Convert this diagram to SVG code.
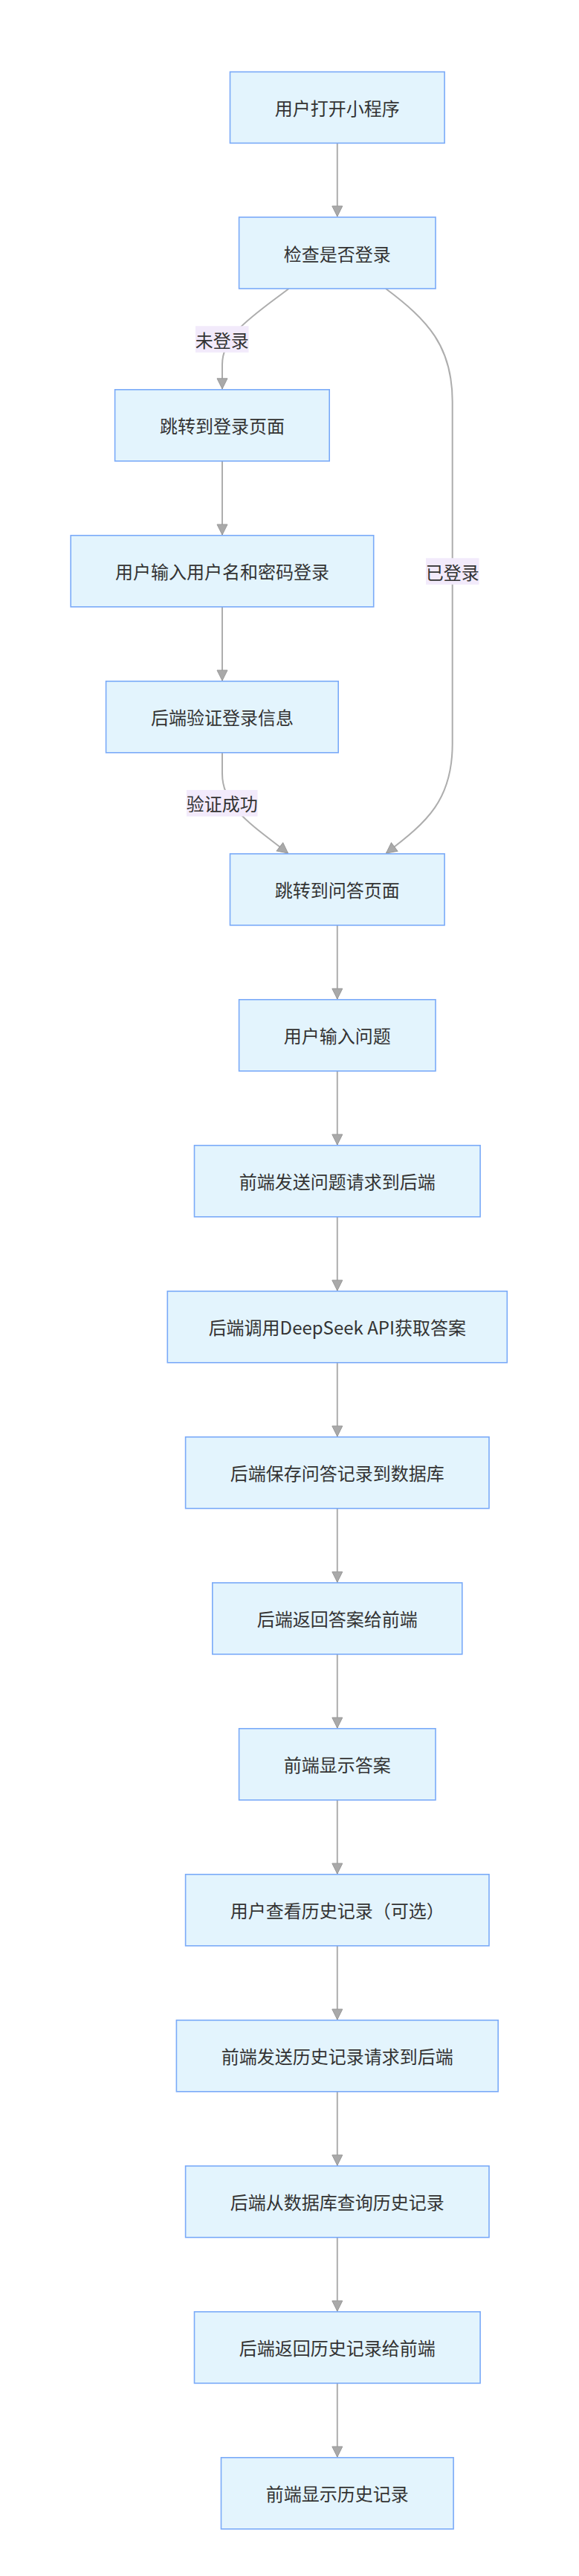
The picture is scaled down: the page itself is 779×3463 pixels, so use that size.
<svg xmlns="http://www.w3.org/2000/svg" width="779" height="3463" viewBox="0 0 779 3463">
<style>
.node rect{fill:#e3f4fd;stroke:#7aaaf8;stroke-width:1.6}
.node text,.lbl text{font-family:"Noto Sans CJK SC","Liberation Sans",sans-serif;font-size:24px;fill:#333;text-anchor:middle;dominant-baseline:central}
.edge{fill:none;stroke:#adadad;stroke-width:2;marker-end:url(#arr)}
.lbl rect{fill:#f2eafb}
</style>
<defs>
<marker id="arr" markerUnits="userSpaceOnUse" markerWidth="16" markerHeight="18" refX="15" refY="8" orient="auto" viewBox="0 0 16 16">
<path d="M1,1 L15,8 L1,15 z" fill="#a9a9a9" stroke="#999" stroke-width="1"/>
</marker>
</defs>
<rect width="779" height="3463" fill="#ffffff"/>
<g id="connectors">
<path class="edge" d="M453.8,192.4 L453.8,291"/>
<path class="edge" d="M388.6,388 C340,425 299,450 299,490 L299,522.8"/>
<path class="edge" d="M519,388 C575,430 608.7,465 608.7,540 L608.7,1000 C608.7,1075 575,1105 519.5,1147"/>
<path class="edge" d="M299,619.8 L299,719"/>
<path class="edge" d="M299,815.8 L299,915"/>
<path class="edge" d="M299,1011.8 L299,1040 C299,1085 340,1110 387.5,1147"/>
<path class="edge" d="M453.8,1243.8 L453.8,1343"/>
<path class="edge" d="M453.8,1439.8 L453.8,1539"/>
<path class="edge" d="M453.8,1635.8 L453.8,1735"/>
<path class="edge" d="M453.8,1831.8 L453.8,1931"/>
<path class="edge" d="M453.8,2027.8 L453.8,2127"/>
<path class="edge" d="M453.8,2223.8 L453.8,2323"/>
<path class="edge" d="M453.8,2419.8 L453.8,2519"/>
<path class="edge" d="M453.8,2615.8 L453.8,2715"/>
<path class="edge" d="M453.8,2811.8 L453.8,2911"/>
<path class="edge" d="M453.8,3007.8 L453.8,3107"/>
<path class="edge" d="M453.8,3203.8 L453.8,3303"/>
</g>
<g id="edge-labels">
<g class="lbl" id="lbl-notlogged"><rect x="263" y="438.3" width="71.5" height="35.5"/><text x="298.7" y="456">未登录</text></g>
<g class="lbl" id="lbl-logged"><rect x="573" y="750.3" width="71.5" height="35.5"/><text x="608.7" y="768">已登录</text></g>
<g class="lbl" id="lbl-verified"><rect x="251" y="1062" width="95.5" height="35.5"/><text x="298.7" y="1079.8">验证成功</text></g>
</g>
<g id="n1" class="node"><rect x="309.5" y="96.6" width="288.6" height="95.8"/><text x="453.8" y="144.5">用户打开小程序</text></g>
<g id="n2" class="node"><rect x="321.6" y="292" width="264.4" height="96"/><text x="453.8" y="340">检查是否登录</text></g>
<g id="n3" class="node"><rect x="154.6" y="523.8" width="288.6" height="96"/><text x="298.9" y="571.8">跳转到登录页面</text></g>
<g id="n4" class="node"><rect x="95.2" y="719.8" width="407.5" height="96"/><text x="298.9" y="767.8">用户输入用户名和密码登录</text></g>
<g id="n5" class="node"><rect x="142.6" y="915.8" width="312.6" height="96"/><text x="298.9" y="963.8">后端验证登录信息</text></g>
<g id="n6" class="node"><rect x="309.5" y="1147.8" width="288.6" height="96"/><text x="453.8" y="1195.8">跳转到问答页面</text></g>
<g id="n7" class="node"><rect x="321.6" y="1343.8" width="264.4" height="96"/><text x="453.8" y="1391.8">用户输入问题</text></g>
<g id="n8" class="node"><rect x="261.5" y="1539.8" width="384.6" height="96"/><text x="453.8" y="1587.8">前端发送问题请求到后端</text></g>
<g id="n9" class="node"><rect x="225.3" y="1735.8" width="457" height="96"/><text x="453.8" y="1783.8">后端调用DeepSeek API获取答案</text></g>
<g id="n10" class="node"><rect x="249.6" y="1931.8" width="408.4" height="96"/><text x="453.8" y="1979.8">后端保存问答记录到数据库</text></g>
<g id="n11" class="node"><rect x="285.8" y="2127.8" width="336" height="96"/><text x="453.8" y="2175.8">后端返回答案给前端</text></g>
<g id="n12" class="node"><rect x="321.6" y="2323.8" width="264.4" height="96"/><text x="453.8" y="2371.8">前端显示答案</text></g>
<g id="n13" class="node"><rect x="249.6" y="2519.8" width="408.4" height="96"/><text x="453.8" y="2567.8">用户查看历史记录（可选）</text></g>
<g id="n14" class="node"><rect x="237.4" y="2715.8" width="432.8" height="96"/><text x="453.8" y="2763.8">前端发送历史记录请求到后端</text></g>
<g id="n15" class="node"><rect x="249.6" y="2911.8" width="408.4" height="96"/><text x="453.8" y="2959.8">后端从数据库查询历史记录</text></g>
<g id="n16" class="node"><rect x="261.5" y="3107.8" width="384.6" height="96"/><text x="453.8" y="3155.8">后端返回历史记录给前端</text></g>
<g id="n17" class="node"><rect x="297.5" y="3303.8" width="312.6" height="96"/><text x="453.8" y="3351.8">前端显示历史记录</text></g>
</svg>
